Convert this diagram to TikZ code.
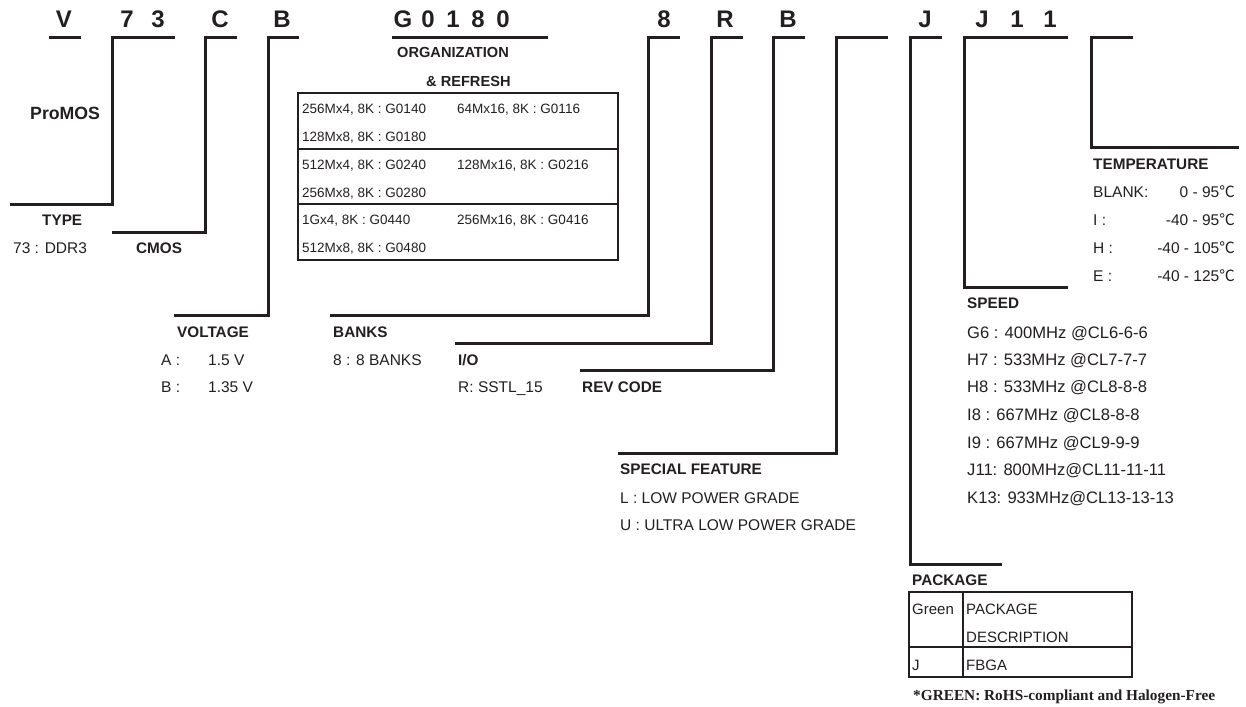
\documentclass[tikz,border=0pt]{standalone}
\usepackage{fontspec}
\setmainfont{Liberation Sans}
\newfontfamily\serifb{Liberation Serif}
\newfontfamily\cjkf{Noto Sans CJK SC}
\definecolor{ink}{HTML}{231F20}
\newcommand{\degc}{{\cjkf ℃}}
\tikzset{
 txt/.style={anchor=base west, inner sep=0pt, text=ink, font=\fontsize{15.5}{18}\selectfont},
 spd/.style={anchor=base west, inner sep=0pt, text=ink, font=\fontsize{16.6}{19}\selectfont},
 hdr/.style={anchor=base west, inner sep=0pt, text=ink, font=\fontsize{15.3}{18}\selectfont\bfseries},
 orghdr/.style={anchor=base west, inner sep=0pt, text=ink, font=\fontsize{14.6}{17}\selectfont\bfseries},
 tbl/.style={anchor=base west, inner sep=0pt, text=ink, font=\fontsize{13.5}{16}\selectfont},
 val/.style={anchor=base east, inner sep=0pt, text=ink, font=\fontsize{15.5}{18}\selectfont},
 code/.style={anchor=base, inner sep=0pt, text=ink, font=\fontsize{24}{28}\selectfont\bfseries},
 brk/.style={draw=ink, line width=3pt, line join=miter},
 box/.style={draw=ink, line width=2pt},
}
\begin{document}
\begin{tikzpicture}[x=1pt,y=-1pt]
\useasboundingbox (0,0) rectangle (1246,706);
% code letters
\node[code] (cV) at (64,28) {V};
\node[code] (c7) at (127,28) {7};
\node[code] (c3) at (158,28) {3};
\node[code] (cC) at (220,28) {C};
\node[code] (cB) at (282,28) {B};
\node[code] (cG) at (403,28) {G};
\node[code] (c0a) at (428,28) {0};
\node[code] (c1) at (453,28) {1};
\node[code] (c8a) at (478,28) {8};
\node[code] (c0b) at (503,28) {0};
\node[code] (c8) at (664,28) {8};
\node[code] (cR) at (725,28) {R};
\node[code] (cB2) at (788,28) {B};
\node[code] (cJ) at (925,28) {J};
\node[code] (cJ2) at (982,28) {J};
\node[code] (c1b) at (1017,28) {1};
\node[code] (c1c) at (1050,28) {1};
% brackets
\draw[brk] (49,38) -- (81,38);
\draw[brk] (175,38) -- (112,38) -- (112,204) -- (10,204);
\draw[brk] (237,38) -- (205,38) -- (205,232) -- (112,232);
\draw[brk] (299,38) -- (268,38) -- (268,315) -- (174,315);
\draw[brk] (392,38) -- (548,38);
\draw[brk] (680,38) -- (648,38) -- (648,315) -- (330,315);
\draw[brk] (743,38) -- (711,38) -- (711,343) -- (455,343);
\draw[brk] (805,38) -- (773,38) -- (773,370) -- (580,370);
\draw[brk] (888,38) -- (836,38) -- (836,453) -- (618,453);
\draw[brk] (942,38) -- (910,38) -- (910,564) -- (1002,564);
\draw[brk] (1068,38) -- (964,38) -- (964,287) -- (1068,287);
\draw[brk] (1133,38) -- (1091,38) -- (1091,147) -- (1239,147);
% left labels
\node[anchor=base west, inner sep=0pt, text=ink, font=\fontsize{17.7}{20}\selectfont\bfseries] (promos) at (30,119.3) {ProMOS};
\node[hdr] (type) at (42,225.5) {TYPE};
\node[txt] (typev) at (13,253.5) {73 : DDR3};
\node[hdr] (cmos) at (136,253.5) {CMOS};
\node[hdr] (volt) at (177,337.5) {VOLTAGE};
\node[txt] (va) at (161,365.5) {A :};
\node[txt] (vav) at (208,365.5) {1.5 V};
\node[txt] (vb) at (161,392.5) {B :};
\node[txt] (vbv) at (208,392.5) {1.35 V};
% organization
\node[orghdr] (org) at (397,57.5) {ORGANIZATION};
\node[orghdr] (ref) at (426,86.5) {\& REFRESH};
\draw[box] (298,93) rectangle (618,260);
\draw[box] (298,149) -- (618,149);
\draw[box] (298,204) -- (618,204);
\node[tbl] (o1) at (302,113.8) {256Mx4, 8K : G0140};
\node[tbl] (o2) at (457,113.8) {64Mx16, 8K : G0116};
\node[tbl] (o3) at (302,141.8) {128Mx8, 8K : G0180};
\node[tbl] (o4) at (302,169.8) {512Mx4, 8K : G0240};
\node[tbl] (o5) at (457,169.8) {128Mx16, 8K : G0216};
\node[tbl] (o6) at (302,197.8) {256Mx8, 8K : G0280};
\node[tbl] (o7) at (302,224.8) {1Gx4, 8K : G0440};
\node[tbl] (o8) at (457,224.8) {256Mx16, 8K : G0416};
\node[tbl] (o9) at (302,252.8) {512Mx8, 8K : G0480};
% banks, io, rev
\node[hdr] (banks) at (333,337.5) {BANKS};
\node[txt] (banksv) at (333,365.5) {8 : 8 BANKS};
\node[hdr] (io) at (458,365.5) {I/O};
\node[txt] (iov) at (458,392.5) {R: SSTL\_15};
\node[hdr] (rev) at (582,392.5) {REV CODE};
% special feature
\node[hdr] (sf) at (620,474.5) {SPECIAL FEATURE};
\node[txt] (sf1) at (620,503.5) {L : LOW POWER GRADE};
\node[txt] (sf2) at (620,530.5) {U : ULTRA LOW POWER GRADE};
% temperature
\node[hdr] (temp) at (1093,169.5) {TEMPERATURE};
\node[txt] (t1) at (1093,197.5) {BLANK:};
\node[val] (t1v) at (1235,197.5) {0 - 95\degc};
\node[txt] (t2) at (1093,225.5) {I :};
\node[val] (t2v) at (1235,225.5) {-40 - 95\degc};
\node[txt] (t3) at (1093,253.5) {H :};
\node[val] (t3v) at (1235,253.5) {-40 - 105\degc};
\node[txt] (t4) at (1093,281.5) {E :};
\node[val] (t4v) at (1235,281.5) {-40 - 125\degc};
% speed
\node[hdr] (speed) at (967,308.5) {SPEED};
\node[spd] (s1) at (967,338.9) {G6 : 400MHz @CL6-6-6};
\node[spd] (s2) at (967,365.9) {H7 : 533MHz @CL7-7-7};
\node[spd] (s3) at (967,392.9) {H8 : 533MHz @CL8-8-8};
\node[spd] (s4) at (967,420.9) {I8 : 667MHz @CL8-8-8};
\node[spd] (s5) at (967,448.9) {I9 : 667MHz @CL9-9-9};
\node[spd] (s6) at (967,475.9) {J11: 800MHz@CL11-11-11};
\node[spd] (s7) at (967,503.9) {K13: 933MHz@CL13-13-13};
% package
\node[hdr] (pkg) at (912,585.5) {PACKAGE};
\draw[box] (909,592) rectangle (1132,677);
\draw[box] (909,647) -- (1132,647);
\draw[box] (963,592) -- (963,677);
\node[txt, font=\fontsize{15}{18}\selectfont] (p1) at (912,614.4) {Green};
\node[txt, font=\fontsize{15}{18}\selectfont] (p2) at (966,614.4) {PACKAGE};
\node[txt, font=\fontsize{15}{18}\selectfont] (p3) at (966,642.4) {DESCRIPTION};
\node[txt, font=\fontsize{15}{18}\selectfont] (p4) at (912,670.4) {J};
\node[txt, font=\fontsize{15}{18}\selectfont] (p5) at (966,670.4) {FBGA};
\node[anchor=base west, inner sep=0pt, text=ink, font=\serifb\fontsize{15.3}{18}\selectfont\bfseries] (note) at (913,700) {*GREEN: RoHS-compliant and Halogen-Free};
\end{tikzpicture}
\end{document}
